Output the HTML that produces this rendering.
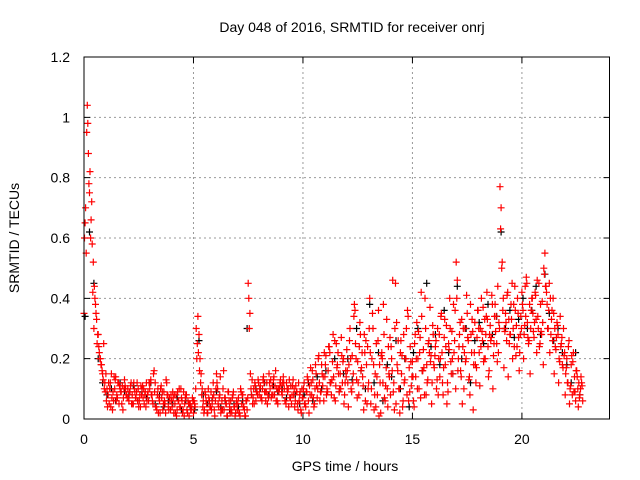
<!DOCTYPE html>
<html><head><meta charset="utf-8">
<style>
html,body{margin:0;padding:0;background:#fff;}
svg{display:block;font-family:"Liberation Sans",sans-serif;}
</style></head>
<body>
<svg id="chart" width="640" height="480" viewBox="0 0 640 480" xmlns="http://www.w3.org/2000/svg">
<rect x="0" y="0" width="640" height="480" fill="#fff"/>
<text x="352" y="32" font-size="14" text-anchor="middle" fill="#000">Day 048 of 2016, SRMTID for receiver onrj</text>
<text x="345" y="471" font-size="14" text-anchor="middle" fill="#000">GPS time / hours</text>
<text x="19" y="238" font-size="14" text-anchor="middle" fill="#000" transform="rotate(-90 19 238)">SRMTID / TECUs</text>
<g id="grid"></g>
<g id="ticks"></g>
<g id="black"></g>
<g id="red"></g>
<rect x="84" y="57" width="525.5" height="362" fill="none" stroke="#000" stroke-width="1"/>
</svg>
<script>
const xTicks = [0, 5, 10, 15, 20];
const yTicks = [0, 0.2, 0.4, 0.6, 0.8, 1, 1.2];
const yTickLabels = ["0", "0.2", "0.4", "0.6", "0.8", "1", "1.2"];
const redStart = 0, redStep = 0.05;
const redValues = [
0.35,0.65,0.55,1.04,0.88,0.75,0.60,0.72,0.42,0.30,0.40,0.35,0.25,0.28,0.22,0.20,0.18,0.15,0.25,0.12,
0.15,0.10,0.08,0.05,0.12,0.15,0.03,0.06,0.10,0.14,0.08,0.12,0.05,0.10,0.09,0.11,0.07,0.13,0.10,0.08,
0.10,0.06,0.09,0.12,0.08,0.05,0.10,0.07,0.09,0.06,0.04,0.08,0.11,0.10,0.07,0.05,0.09,0.12,0.08,0.06,
0.10,0.13,0.08,0.05,0.16,0.12,0.04,0.08,0.02,0.06,0.10,0.07,0.03,0.09,0.05,0.13,0.08,0.04,0.07,0.03,
0.06,0.09,0.02,0.05,0.08,0.03,0.06,0.10,0.04,0.07,0.02,0.09,0.05,0.08,0.03,0.06,0.01,0.05,0.03,0.07,
0.02,0.05,0.10,0.20,0.34,0.28,0.20,0.15,0.10,0.06,0.03,0.08,0.05,0.02,0.07,0.04,0.09,0.05,0.12,0.03,
0.06,0.15,0.10,0.04,0.08,0.02,0.06,0.10,0.03,0.07,0.05,0.01,0.09,0.04,0.06,0.02,0.08,0.04,0.01,0.05,
0.03,0.07,0.02,0.10,0.05,0.08,0.04,0.01,0.06,0.03,0.45,0.30,0.15,0.08,0.05,0.10,0.12,0.06,0.09,0.13,
0.08,0.11,0.07,0.10,0.14,0.09,0.06,0.12,0.08,0.15,0.10,0.07,0.11,0.13,0.08,0.16,0.10,0.05,0.09,0.12,
0.11,0.08,0.14,0.10,0.06,0.12,0.09,0.04,0.07,0.11,0.08,0.13,0.10,0.06,0.09,0.05,0.12,0.08,0.03,0.10,
0.07,0.12,0.05,0.09,0.14,0.06,0.11,0.17,0.08,0.13,0.04,0.10,0.15,0.07,0.20,0.12,0.09,0.18,0.11,0.06,
0.14,0.21,0.10,0.16,0.24,0.12,0.08,0.19,0.14,0.26,0.11,0.17,0.22,0.09,0.15,0.27,0.12,0.20,0.08,0.16,
0.23,0.12,0.18,0.30,0.10,0.21,0.15,0.38,0.25,0.13,0.19,0.08,0.32,0.16,0.22,0.11,0.28,0.06,0.18,0.24,
0.12,0.40,0.05,0.20,0.30,0.03,0.15,0.25,0.08,0.36,0.18,0.02,0.22,0.12,0.28,0.06,0.17,0.10,0.24,0.14,
0.08,0.20,0.46,0.12,0.30,0.05,0.18,0.26,0.10,0.22,0.15,0.04,0.28,0.13,0.20,0.08,0.34,0.17,0.24,0.11,
0.19,0.06,0.25,0.14,0.32,0.20,0.10,0.27,0.42,0.16,0.23,0.08,0.30,0.18,0.13,0.26,0.37,0.21,0.12,0.28,
0.17,0.24,0.10,0.30,0.20,0.14,0.34,0.22,0.08,0.27,0.18,0.31,0.12,0.25,0.40,0.19,0.29,0.15,0.22,0.36,
0.52,0.46,0.20,0.28,0.16,0.33,0.24,0.10,0.30,0.20,0.35,0.26,0.14,0.38,0.22,0.29,0.18,0.32,0.12,0.27,
0.36,0.22,0.30,0.40,0.26,0.19,0.33,0.28,0.42,0.24,0.16,0.31,0.27,0.38,0.21,0.34,0.29,0.25,0.44,0.32,
0.77,0.70,0.52,0.40,0.30,0.35,0.26,0.42,0.33,0.28,0.38,0.45,0.30,0.24,0.36,0.31,0.40,0.27,0.22,0.34,
0.42,0.36,0.28,0.44,0.47,0.32,0.25,0.38,0.30,0.40,0.35,0.27,0.42,0.33,0.46,0.30,0.24,0.38,0.28,0.32,
0.50,0.55,0.44,0.38,0.30,0.45,0.40,0.33,0.26,0.35,0.30,0.23,0.32,0.28,0.20,0.34,0.25,0.18,0.30,0.22,
0.15,0.20,0.12,0.26,0.10,0.18,0.08,0.22,0.14,0.06,0.16,0.10,0.12,0.08,0.14,0.11
];
const red2Start = 0.025, red2Step = 0.1;
const red2Values = [
0.60,0.95,0.78,0.66,0.52,0.38,0.28,0.20,0.16,0.10,
0.06,0.12,0.04,0.09,0.13,0.07,0.11,0.05,0.10,0.08,
0.07,0.11,0.05,0.09,0.12,0.06,0.08,0.10,0.04,0.09,
0.12,0.06,0.09,0.03,0.07,0.11,0.05,0.02,0.08,0.06,
0.04,0.08,0.01,0.06,0.10,0.03,0.07,0.02,0.05,0.04,
0.06,0.30,0.22,0.12,0.04,0.09,0.02,0.06,0.03,0.08,
0.10,0.05,0.14,0.03,0.07,0.01,0.06,0.03,0.09,0.02,
0.05,0.01,0.08,0.03,0.06,0.40,0.10,0.07,0.11,0.08,
0.10,0.06,0.12,0.09,0.07,0.13,0.08,0.11,0.06,0.10,
0.09,0.12,0.05,0.10,0.07,0.11,0.04,0.09,0.06,0.02,
0.10,0.04,0.13,0.08,0.16,0.05,0.11,0.21,0.09,0.14,
0.18,0.09,0.22,0.13,0.07,0.25,0.15,0.10,0.19,0.12,
0.16,0.26,0.09,0.34,0.20,0.12,0.28,0.14,0.22,0.05,
0.30,0.10,0.18,0.04,0.26,0.12,0.20,0.07,0.33,0.15,
0.24,0.09,0.45,0.16,0.02,0.21,0.12,0.30,0.06,0.19,
0.14,0.28,0.10,0.22,0.34,0.17,0.08,0.25,0.19,0.31,
0.21,0.13,0.28,0.35,0.17,0.24,0.09,0.30,0.20,0.26,
0.40,0.24,0.14,0.30,0.19,0.27,0.08,0.33,0.22,0.17,
0.30,0.24,0.37,0.20,0.33,0.28,0.41,0.25,0.34,0.22,
0.63,0.36,0.29,0.41,0.25,0.33,0.38,0.21,0.35,0.28,
0.38,0.31,0.45,0.26,0.36,0.29,0.41,0.34,0.25,0.39,
0.48,0.42,0.36,0.28,0.40,0.24,0.31,0.19,0.27,0.21,
0.17,0.24,0.11,0.19,0.09,0.14,0.07,0.12
];
const red3Start = 0.075, red3Step = 0.1;
const red3Values = [
0.70,0.98,0.82,0.58,0.44,0.33,0.24,0.18,0.13,0.09,
0.04,0.10,0.07,0.14,0.06,0.12,0.09,0.03,0.11,0.07,
0.09,0.05,0.12,0.07,0.10,0.04,0.11,0.08,0.06,0.12,
0.08,0.15,0.04,0.10,0.02,0.09,0.06,0.12,0.03,0.08,
0.07,0.02,0.09,0.04,0.06,0.01,0.08,0.05,0.03,0.06,
0.04,0.25,0.16,0.08,0.02,0.06,0.10,0.04,0.07,0.01,
0.12,0.07,0.03,0.16,0.05,0.09,0.02,0.07,0.04,0.06,
0.02,0.09,0.04,0.01,0.07,0.35,0.13,0.05,0.09,0.12,
0.07,0.13,0.09,0.05,0.12,0.08,0.14,0.06,0.10,0.13,
0.12,0.06,0.10,0.13,0.05,0.08,0.11,0.03,0.09,0.07,
0.05,0.09,0.02,0.12,0.07,0.18,0.10,0.06,0.15,0.22,
0.08,0.24,0.12,0.28,0.06,0.18,0.10,0.21,0.05,0.14,
0.04,0.20,0.12,0.36,0.07,0.24,0.17,0.03,0.26,0.10,
0.22,0.35,0.08,0.14,0.01,0.21,0.38,0.11,0.04,0.27,
0.16,0.03,0.32,0.10,0.26,0.06,0.20,0.36,0.09,0.14,
0.04,0.20,0.29,0.07,0.16,0.40,0.12,0.22,0.05,0.18,
0.26,0.08,0.20,0.12,0.33,0.05,0.23,0.15,0.38,0.10,
0.16,0.32,0.05,0.22,0.41,0.13,0.28,0.03,0.18,0.36,
0.11,0.29,0.20,0.34,0.14,0.26,0.10,0.38,0.19,0.30,
0.50,0.17,0.32,0.14,0.28,0.20,0.44,0.24,0.16,0.30,
0.20,0.34,0.27,0.15,0.40,0.32,0.22,0.45,0.29,0.18,
0.44,0.30,0.22,0.36,0.15,0.27,0.12,0.24,0.17,0.08,
0.12,0.05,0.21,0.09,0.16,0.04,0.10,0.06
];
const blackStart = 0.05, blackStep = 0.2;
const blackValues = [
0.34,0.62,0.45,0.20,0.12,0.08,0.10,0.06,0.12,0.09,
0.08,0.11,0.06,0.09,0.07,0.12,0.05,0.08,0.04,0.06,
0.05,0.07,0.03,0.06,0.04,0.03,0.26,0.08,0.05,0.06,
0.09,0.04,0.06,0.03,0.05,0.04,0.06,0.30,0.08,0.10,
0.10,0.12,0.08,0.11,0.09,0.10,0.07,0.11,0.08,0.05,
0.08,0.12,0.06,0.14,0.10,0.16,0.12,0.20,0.09,0.15,
0.20,0.13,0.30,0.16,0.10,0.38,0.12,0.22,0.06,0.18,
0.14,0.26,0.10,0.20,0.04,0.22,0.30,0.16,0.45,0.24,
0.28,0.18,0.36,0.22,0.15,0.44,0.20,0.30,0.12,0.26,
0.32,0.25,0.38,0.28,0.34,0.62,0.30,0.36,0.27,0.33,
0.40,0.30,0.36,0.44,0.28,0.48,0.35,0.26,0.30,0.22,
0.18,0.12,0.22,0.08
];

const NS = "http://www.w3.org/2000/svg";
const X0 = 84, X1 = 609.5, Y0 = 419, Y1 = 57, XMAX = 24, YMAX = 1.2;
function xs(v){ return X0 + v / XMAX * (X1 - X0); }
function ys(v){ return Y0 - v / YMAX * (Y0 - Y1); }
function mk(tag, attrs, parent){
  const e = document.createElementNS(NS, tag);
  for (const k in attrs) e.setAttribute(k, attrs[k]);
  parent.appendChild(e);
  return e;
}
const grid = document.getElementById('grid');
const ticks = document.getElementById('ticks');
yTicks.forEach((v, i) => {
  const y = ys(v);
  if (v > 0 && v < YMAX) {
    const g = mk('line', {x1: X0, x2: X1, y1: y, y2: y, stroke: '#999', 'stroke-dasharray': '2,3', 'stroke-width': 1}, grid);
    
    
  }
  const t = mk('path', {d: `M${X0} ${y}h6M${X1} ${y}h-6`, stroke: '#000', 'stroke-width': 1}, ticks);
  
  
  const l = mk('text', {x: 70, y: y + 5, 'font-size': 14, 'text-anchor': 'end', fill: '#000'}, ticks);
  l.textContent = yTickLabels[i];
  
  
});
xTicks.forEach(v => {
  const x = xs(v);
  if (v > 0) {
    const g = mk('line', {x1: x, x2: x, y1: Y0, y2: Y1, stroke: '#999', 'stroke-dasharray': '2,3', 'stroke-width': 1}, grid);
    
    
  }
  const t = mk('path', {d: `M${x} ${Y0}v-6M${x} ${Y1}v6`, stroke: '#000', 'stroke-width': 1}, ticks);
  
  
  const l = mk('text', {x: x, y: 444, 'font-size': 14, 'text-anchor': 'middle', fill: '#000'}, ticks);
  l.textContent = String(v);
  
  
});
function drawSeries(vals, start, step, color, parentId, name){
  const p = document.getElementById(parentId);
  let d = '';
  vals.forEach((v, i) => {
    const x = xs(start + i * step), y = ys(v);
    d += `M${(x-3.5).toFixed(1)} ${y.toFixed(1)}h7M${x.toFixed(1)} ${(y-3.5).toFixed(1)}v7`;
  });
  const path = mk('path', {d: d, stroke: color, 'stroke-width': 1.2, fill: 'none'}, p);
  
  
}
drawSeries(blackValues, blackStart, blackStep, '#000', 'black', 'black-points');
drawSeries(redValues, redStart, redStep, '#f00', 'red', 'red-points');
drawSeries(red2Values, red2Start, red2Step, '#f00', 'red', 'red-points-extra');
drawSeries(red3Values, red3Start, red3Step, '#f00', 'red', 'red-points-third');
</script>
</body></html>
